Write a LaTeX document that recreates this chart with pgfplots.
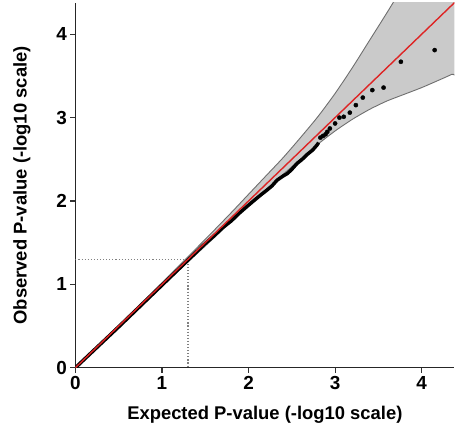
\documentclass[border=0pt]{standalone}
\usepackage{fontspec}
\setmainfont{Liberation Sans}
\usepackage{pgfplots}
\pgfplotsset{compat=1.18}
\definecolor{bandfill}{RGB}{202,202,202}
\definecolor{bandedge}{RGB}{110,110,110}
\definecolor{qqred}{RGB}{222,36,36}
\begin{document}
\begin{tikzpicture}
\begin{axis}[
  anchor=origin, at={(0,0)},
  scale only axis, width=379.5bp, height=365.3bp,
  xmin=0, xmax=4.377, ymin=0, ymax=4.375,
  axis x line*=bottom, axis y line*=left,
  axis line style={-, line width=1.4pt, black!85},
  xtick={0,1,2,3,4}, ytick={0,1,2,3,4},
  tick align=outside, major tick length=5bp,
  tick style={line width=1.1pt, black!80},
  /pgf/number format/assume math mode=true,
  ticklabel style={font=\fontsize{19}{19}\selectfont\bfseries},
  xlabel={Expected P-value (-log10 scale)},
  ylabel={Observed P-value (-log10 scale)},
  label style={font=\fontsize{18.5}{18.5}\selectfont\bfseries},
  xlabel style={at={(axis description cs:0.5,-0.128)}, anchor=center},
  ylabel style={at={(axis description cs:-0.141,0.5)}, anchor=center},
  clip=true,
]
% confidence band (upper boundary, then lower boundary back)
\addplot[fill=bandfill, draw=bandedge, line width=0.9pt, smooth, tension=0.4] coordinates {
  (0,0) (0.5,0.51) (1.0,1.02) (1.5,1.54) (1.8,1.86) (2.0,2.08) (2.2,2.30)
  (2.4,2.52) (2.6,2.76) (2.8,3.01) (3.0,3.29) (3.2,3.60) (3.4,3.93)
  (3.6,4.26) (3.8,4.60) (4.0,4.93) (4.2,5.22) (4.5,5.66)
  (4.5,3.60) (4.35,3.52) (4.2,3.45) (4.0,3.36) (3.8,3.28) (3.6,3.20)
  (3.4,3.10) (3.2,2.98) (3.0,2.84) (2.8,2.68) (2.6,2.50) (2.4,2.32)
  (2.2,2.13) (2.0,1.94) (1.8,1.75) (1.5,1.46) (1.0,0.98) (0.5,0.49) (0,0)
};
% significance threshold
\addplot[gray, dotted, line width=1.1pt] coordinates {(0,1.301) (1.301,1.301) (1.301,0)};
% observed (dense part)
\addplot[black, line width=3.5pt] coordinates {
  (0,0) (0.5,0.49) (1.0,0.99) (1.3,1.29) (1.5,1.49) (1.6,1.58) (1.7,1.68)
  (1.8,1.76) (1.9,1.86) (2.0,1.95) (2.08,2.02) (2.15,2.08) (2.2,2.12)
  (2.27,2.18) (2.33,2.25) (2.4,2.30) (2.45,2.33) (2.5,2.38) (2.56,2.45)
  (2.62,2.50) (2.68,2.56) (2.74,2.61) (2.79,2.67) (2.81,2.70)
};
% observed (sparse tail)
\addplot[only marks, mark=*, mark size=2.1bp, black] coordinates {
  (2.83,2.76) (2.86,2.78) (2.89,2.80) (2.91,2.83) (2.94,2.87) (3.00,2.93)
  (3.05,3.00) (3.10,3.01) (3.17,3.06) (3.24,3.15) (3.32,3.24) (3.43,3.33)
  (3.56,3.36) (3.76,3.67) (4.15,3.81)
};
% expected line
\addplot[qqred, line width=1.4pt] coordinates {(0,0) (4.5,4.5)};
\end{axis}
\path (-75.5bp,-65.7bp) rectangle (379.5bp,368.3bp);
\end{tikzpicture}
\end{document}
